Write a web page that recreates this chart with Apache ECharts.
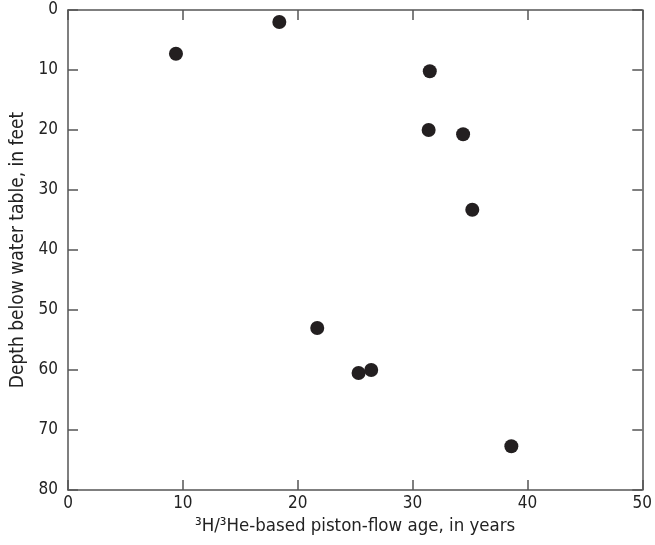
<!DOCTYPE html>
<html><head><meta charset="utf-8">
<script src="https://cdn.jsdelivr.net/npm/echarts@6/dist/echarts.min.js"></script>
<style>html,body{margin:0;padding:0;background:#fff}#c{width:655px;height:545px}</style>
</head><body><div id="c"></div>
<script>
const ages = [9.4, 18.4, 31.5, 31.4, 34.4, 35.2, 21.7, 25.3, 26.4, 38.6];
const depths = [7.3, 2.0, 10.2, 20.0, 20.7, 33.3, 53.0, 60.5, 60.0, 72.7];
const xTicks = [0, 10, 20, 30, 40, 50];
const yTicks = [0, 10, 20, 30, 40, 50, 60, 70, 80];
const xTitle = '³H/³He-based piston-flow age, in years';
const yTitle = 'Depth below water table, in feet';

const FONT = '"Liberation Sans Narrow", "DejaVu Sans Condensed", sans-serif';
const axisCol = '#555';
const chart = echarts.init(document.getElementById('c'));
const lineStyle = {show: true, onZero: false, lineStyle: {color: axisCol, width: 1.5}};
const tick = {show: true, inside: true, length: 10, lineStyle: {color: axisCol, width: 1.5}};
const lab = {color: '#222', fontFamily: FONT, fontSize: 17};
chart.setOption({
  animation: false,
  grid: {left: 68, right: 10, top: 10, bottom: 55},
  xAxis: [{
    type: 'value', position: 'bottom', min: xTicks[0], max: xTicks[xTicks.length-1], interval: 10,
    axisLine: lineStyle, axisTick: tick, splitLine: {show: false},
    axisLabel: Object.assign({margin: 5}, lab),
    name: xTitle, nameLocation: 'middle', nameGap: 26,
    nameTextStyle: {color: '#222', fontFamily: FONT, fontSize: 18.5}
  }, {
    type: 'value', position: 'top', min: 0, max: 50, interval: 10,
    axisLine: lineStyle, axisTick: tick, axisLabel: {show: false}, splitLine: {show: false}
  }],
  yAxis: [{
    type: 'value', position: 'left', inverse: true, min: yTicks[0], max: yTicks[yTicks.length-1], interval: 10,
    axisLine: lineStyle, axisTick: tick, splitLine: {show: false},
    axisLabel: Object.assign({margin: 10}, lab),
    name: yTitle, nameLocation: 'middle', nameGap: 32, nameRotate: 90,
    nameTextStyle: {color: '#222', fontFamily: FONT, fontSize: 19}
  }, {
    type: 'value', inverse: true, position: 'right', min: 0, max: 80, interval: 10,
    axisLine: lineStyle, axisTick: tick, axisLabel: {show: false}, splitLine: {show: false}
  }],
  series: [{
    type: 'scatter', xAxisIndex: 0, yAxisIndex: 0,
    symbol: 'circle', symbolSize: 14,
    itemStyle: {color: '#231f20', opacity: 1},
    data: ages.map((a, i) => [a, depths[i]])
  }]
});
</script></body></html>
